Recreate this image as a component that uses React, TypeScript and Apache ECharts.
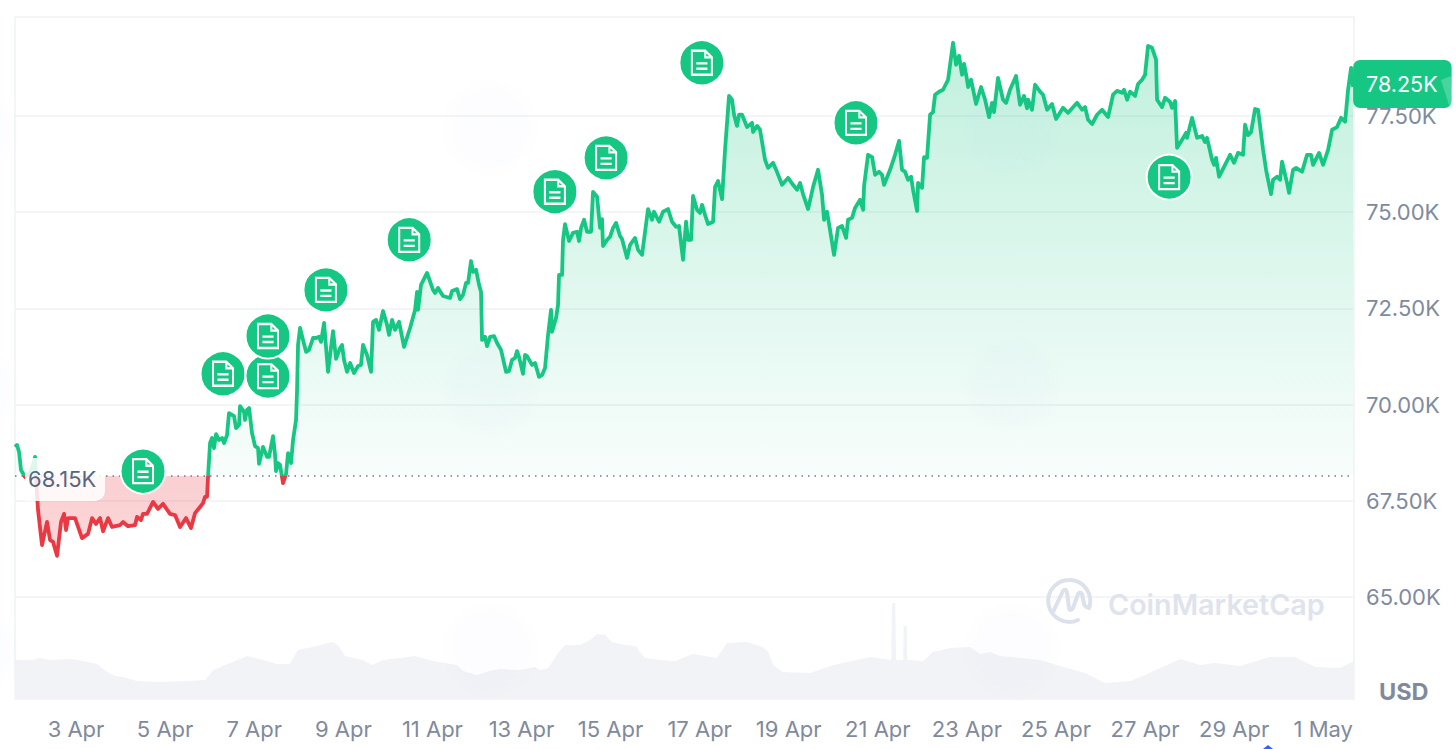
import React, { useEffect, useRef } from "react";
import * as echarts from "echarts";

const FONT = "Inter, 'Noto Sans', sans-serif";
const GREEN = "#16c784";
const RED = "#ea3943";
const GREY = "#808a9d";

const dayTicks = [3, 5, 7, 9, 11, 13, 15, 17, 19, 21, 23, 25, 27, 29, 31];
const dayLabels = ["3 Apr", "5 Apr", "7 Apr", "9 Apr", "11 Apr", "13 Apr", "15 Apr", "17 Apr", "19 Apr", "21 Apr", "23 Apr", "25 Apr", "27 Apr", "29 Apr", "1 May"];
const priceTicks = [65, 67.5, 70, 72.5, 75, 77.5];
const openPrice = 68.15;
const lastPrice = 78.25;

// [day of April, price in thousands of USD]
const priceLine: number[][] = [
  [1.631,68.90],[1.676,68.95],[1.721,68.77],[1.765,68.30],[1.855,68.12],[1.968,68.25],[2.035,68.43],[2.08,68.64],[2.10,68.14],[2.147,67.26],[2.237,66.35],[2.349,66.95],[2.417,66.48],[2.484,66.43],[2.574,66.07],[2.663,66.95],[2.731,67.16],[2.776,66.74],[2.821,67.05],[2.978,67.05],[3.135,66.53],[3.27,66.64],[3.36,67.05],[3.449,66.90],[3.539,67.05],[3.606,66.71],[3.719,67.05],[3.808,66.82],[3.988,66.87],[4.055,66.95],[4.168,66.84],[4.325,66.87],[4.37,67.08],[4.459,67.00],[4.504,67.16],[4.594,67.16],[4.729,67.47],[4.841,67.29],[4.953,67.42],[5.11,67.16],[5.223,67.13],[5.335,66.82],[5.47,67.05],[5.582,66.79],[5.672,67.18],[5.784,67.34],[5.851,67.44],[5.896,67.60],[5.941,67.60],[5.964,68.14],
  [6.009,69.00],[6.053,69.13],[6.098,68.87],[6.143,69.23],[6.21,69.08],[6.278,69.13],[6.323,69.00],[6.39,69.21],[6.435,69.78],[6.547,69.70],[6.592,69.39],[6.66,69.47],[6.682,69.96],[6.772,69.81],[6.794,69.60],[6.839,69.86],[6.884,69.91],[6.951,69.26],[7.019,68.92],[7.086,68.87],[7.109,68.46],[7.198,68.90],[7.288,68.64],[7.333,68.64],[7.423,69.18],[7.468,68.69],[7.49,68.27],[7.535,68.48],[7.58,68.43],[7.647,67.96],[7.715,68.20],[7.76,68.74],[7.827,68.48],[7.872,69.08],[7.939,69.60],[7.962,70.38],[7.984,71.55],[8.029,71.99],[8.096,71.68],[8.164,71.37],[8.231,71.42],[8.321,71.73],[8.388,71.73],[8.456,71.76],[8.50,71.63],[8.568,72.12],[8.658,70.85],[8.77,71.91],[8.837,71.19],[8.927,71.47],[8.972,71.55],[9.017,71.16],[9.084,70.85],[9.152,71.08],[9.241,70.82],[9.331,71.00],[9.398,71.03],[9.443,71.55],[9.533,71.29],[9.623,70.85],[9.668,72.15],[9.735,72.20],[9.802,71.94],[9.892,72.43],[9.982,72.07],[10.027,71.81],[10.094,72.20],[10.162,71.94],[10.252,72.15],[10.364,71.50],[10.499,71.99],[10.611,72.46],[10.656,72.93],[10.678,72.46],[10.745,73.11],[10.88,73.42],[11.015,72.98],[11.06,72.90],[11.127,73.03],[11.239,72.82],[11.397,72.77],[11.441,72.95],[11.554,73.00],[11.621,72.74],[11.688,72.85],[11.756,73.16],[11.801,73.16],[11.868,73.73],[11.913,73.45],[11.98,73.50],[12.048,73.11],[12.092,72.93],[12.115,71.68],[12.182,71.76],[12.227,71.52],[12.295,71.76],[12.384,71.78],[12.452,71.60],[12.541,71.42],[12.654,70.85],[12.721,70.87],[12.788,71.16],[12.856,71.21],[12.901,71.39],[12.945,71.24],[13.035,70.80],[13.08,71.29],[13.125,71.26],[13.237,71.03],[13.305,71.08],[13.395,70.72],[13.462,70.77],[13.529,70.95],[13.597,71.81],[13.664,72.46],[13.686,71.89],[13.776,72.25],[13.821,72.59],[13.843,73.37],[13.911,73.37],[13.933,74.27],[13.978,74.69],[14.068,74.25],[14.158,74.46],[14.248,74.49],[14.293,74.25],[14.338,74.59],[14.405,74.80],[14.472,74.49],[14.562,74.49],[14.607,75.525],[14.697,75.40],[14.764,74.59],[14.809,74.82],[14.831,74.12],[14.921,74.28],[14.988,74.36],[15.056,74.59],[15.123,74.72],[15.213,74.38],[15.258,74.30],[15.37,73.81],[15.438,74.15],[15.55,74.33],[15.617,74.02],[15.707,73.89],[15.842,75.08],[15.931,74.80],[15.976,75.01],[16.089,74.75],[16.178,75.01],[16.291,75.08],[16.38,74.75],[16.47,74.62],[16.537,74.64],[16.627,73.76],[16.695,74.75],[16.74,74.28],[16.807,74.28],[16.852,75.42],[16.942,75.06],[17.009,74.98],[17.054,75.19],[17.121,74.93],[17.189,74.69],[17.301,74.75],[17.346,75.65],[17.413,75.81],[17.503,75.34],[17.57,76.62],[17.66,78.02],[17.727,77.92],[17.772,77.53],[17.839,77.24],[17.884,77.53],[17.952,77.53],[18.064,77.21],[18.176,77.32],[18.199,77.08],[18.289,77.24],[18.356,77.14],[18.468,76.36],[18.536,76.15],[18.648,76.28],[18.738,76.04],[18.85,75.71],[18.985,75.89],[19.097,75.71],[19.187,75.58],[19.254,75.76],[19.321,75.47],[19.434,75.08],[19.546,75.65],[19.658,76.10],[19.748,75.45],[19.793,74.80],[19.86,75.01],[19.927,74.54],[20.017,73.89],[20.107,74.59],[20.197,74.64],[20.287,74.33],[20.332,74.80],[20.421,74.85],[20.489,75.11],[20.601,75.32],[20.669,75.06],[20.691,75.68],[20.781,76.49],[20.871,76.43],[20.938,75.97],[21.028,76.05],[21.095,75.97],[21.14,75.71],[21.275,76.10],[21.387,76.49],[21.477,76.85],[21.544,76.10],[21.611,76.05],[21.679,75.84],[21.746,75.92],[21.791,75.58],[21.881,75.03],[21.903,75.76],[21.993,75.63],[22.038,76.43],[22.105,76.41],[22.173,77.53],[22.24,77.60],[22.285,78.05],[22.375,78.13],[22.464,78.18],[22.577,78.44],[22.689,79.40],[22.756,78.83],[22.823,79.06],[22.891,78.57],[22.936,78.85],[23.003,78.44],[23.026,78.25],[23.093,78.44],[23.205,77.81],[23.318,78.25],[23.408,77.92],[23.497,77.47],[23.564,77.84],[23.609,77.60],[23.699,78.49],[23.811,77.92],[23.879,77.84],[23.968,78.18],[24.103,78.54],[24.193,77.79],[24.283,78.02],[24.35,77.70],[24.373,77.92],[24.462,77.66],[24.53,78.31],[24.642,78.13],[24.71,78.05],[24.8,77.66],[24.911,77.81],[25.001,77.42],[25.158,77.71],[25.271,77.58],[25.473,77.84],[25.585,77.66],[25.652,77.73],[25.72,77.40],[25.81,77.29],[25.922,77.53],[26.034,77.66],[26.169,77.47],[26.281,78.05],[26.371,78.15],[26.483,78.10],[26.528,78.18],[26.596,77.92],[26.663,78.13],[26.775,78.02],[26.842,78.33],[26.932,78.44],[26.999,78.57],[27.067,79.32],[27.156,79.27],[27.246,78.96],[27.269,77.92],[27.381,77.73],[27.448,77.97],[27.561,77.86],[27.605,77.71],[27.673,77.89],[27.718,76.67],[27.83,76.88],[27.92,77.06],[27.942,76.93],[28.054,77.45],[28.167,76.93],[28.279,76.98],[28.346,76.82],[28.391,76.93],[28.503,76.36],[28.548,76.23],[28.593,76.41],[28.661,75.92],[28.795,76.23],[28.908,76.49],[28.997,76.28],[29.087,76.54],[29.199,76.49],[29.244,77.27],[29.312,77.00],[29.379,77.08],[29.469,77.68],[29.536,77.66],[29.649,76.62],[29.716,76.10],[29.761,75.84],[29.828,75.47],[29.873,75.84],[29.963,75.92],[30.03,75.84],[30.075,76.31],[30.143,75.97],[30.187,75.76],[30.232,75.50],[30.322,76.10],[30.39,76.15],[30.457,76.10],[30.524,76.05],[30.636,76.49],[30.726,76.49],[30.771,76.23],[30.906,76.54],[30.996,76.23],[31.108,76.62],[31.198,77.14],[31.31,77.21],[31.4,77.45],[31.49,77.35],[31.557,78.18],[31.625,78.75],[31.67,78.25],
];

// [day of April, volume in billions of USD]
const volumeLine: number[][] = [
  [1.63,39],[2.03,39],[2.19,41],[2.42,39],[2.87,40],[3.05,39],[3.47,35],[3.70,27],[3.88,23],[4.06,22],[4.37,18],[4.89,17],[5.49,18],[5.90,19],[6.08,29],[6.46,36],[6.84,43],[7.20,39],[7.51,35],[7.80,35],[7.98,49],[8.41,53],[8.75,57],[8.88,54],[9.04,43],[9.44,39],[9.65,34],[9.89,39],[10.27,41],[10.61,43],[11.01,38],[11.55,34],[11.69,28],[12.00,24],[12.29,28],[12.52,30],[12.97,29],[13.30,32],[13.42,29],[13.60,31],[13.82,46],[13.98,54],[14.32,54],[14.54,59],[14.70,65],[14.88,64],[15.03,57],[15.33,54],[15.57,53],[15.66,47],[15.77,41],[16.11,39],[16.45,38],[16.85,45],[17.39,41],[17.61,56],[18.06,57],[18.42,52],[18.54,47],[18.65,34],[18.87,27],[19.48,26],[20.00,34],[20.83,42],[21.30,39],[21.32,96],[21.39,96],[21.41,39],[21.57,39],[21.58,73],[21.65,73],[21.66,39],[22.02,38],[22.24,47],[22.62,51],[23.07,52],[23.30,45],[23.52,47],[23.74,43],[24.64,39],[25.09,33],[25.65,26],[26.10,16],[26.66,18],[27.00,24],[27.34,31],[27.79,40],[28.23,34],[28.57,36],[29.13,33],[29.80,42],[30.37,42],[30.82,32],[31.38,31],[31.69,38],
];

// [day of April, price level in thousands of USD] of the news pins
const newsPins: number[][] = [
  [4.504,68.27],[6.30,70.80],[7.31,70.74],[7.31,71.78],[8.61,72.98],[10.48,74.28],[13.75,75.53],[14.90,76.41],[17.05,78.88],[20.51,77.32],[27.54,75.91],
];

const docIcon = "path://M1 1H13L19 7V23H1ZM13 1V7H19M5 12.5H15M5 17.5H15";
const logoPath = "M32 41 A21 21 0 1 1 43 29 M7 33 L17 12 Q19 9 21 13 L23 29 Q24 33 27 29 L32 15 Q34 12 36 15 L38 25 Q40 30 44 27";

const blob = (cx: number, cy: number, r: number) => ({
  type: "circle",
  shape: { cx, cy, r },
  silent: true,
  z: 6,
  style: {
    fill: {
      type: "radial", x: 0.5, y: 0.5, r: 0.5,
      colorStops: [
        { offset: 0, color: "rgba(70,100,220,0.014)" },
        { offset: 0.7, color: "rgba(70,100,220,0.012)" },
        { offset: 1, color: "rgba(70,100,220,0)" },
      ],
    },
  },
});

export default function App() {
  const ref = useRef<HTMLDivElement>(null);

  useEffect(() => {
    document.body.style.margin = "0";
    document.documentElement.style.overflow = "hidden";
    echarts.graphic.registerShape("logo", echarts.graphic.extendPath(logoPath, {}));
    const chart = echarts.init(ref.current!, undefined, { renderer: "svg" });
    chart.setOption({
      animation: false,
      backgroundColor: "#fff",
      textStyle: { fontFamily: FONT },
      grid: [
        { left: 15, right: 102, top: 17, bottom: 50, show: true, borderColor: "#eff2f5", borderWidth: 1.5 },
        { left: 15, right: 102, top: 599, bottom: 50 },
      ],
      xAxis: [
        {
          type: "value", gridIndex: 0, min: 1.63, max: 31.69,
          axisLine: { show: false }, splitLine: { show: false },
          axisTick: { show: false, customValues: dayTicks },
          axisLabel: {
            customValues: dayTicks,
            margin: 19,
            color: GREY,
            fontFamily: FONT,
            fontSize: 22,
            formatter: (v: number) => dayLabels[dayTicks.indexOf(v)],
          },
        },
        { type: "value", gridIndex: 1, min: 1.63, max: 31.69, show: false },
      ],
      yAxis: [
        {
          type: "value", gridIndex: 0, position: "right", min: 62.35, max: 80.07,
          axisLine: { show: false },
          axisTick: { show: false, customValues: priceTicks },
          splitLine: { lineStyle: { color: "#eff2f5", width: 1.5 } },
          axisLabel: {
            customValues: priceTicks,
            margin: 12,
            color: GREY,
            fontFamily: FONT,
            fontSize: 22,
            formatter: (v: number) => v.toFixed(2) + "K",
          },
        },
        { type: "value", gridIndex: 1, min: 0, max: 100, show: false },
      ],
      visualMap: {
        show: false,
        seriesIndex: 1,
        dimension: 1,
        pieces: [
          { gt: openPrice, lte: 90, color: GREEN },
          { gt: 50, lte: openPrice, color: RED },
        ],
      },
      series: [
        {
          type: "line", name: "Volume", xAxisIndex: 1, yAxisIndex: 1, z: 1,
          data: volumeLine, symbol: "none", silent: true,
          lineStyle: { width: 0 },
          areaStyle: { color: "#f1f3f6", opacity: 1 },
        },
        {
          type: "line", name: "Price", xAxisIndex: 0, yAxisIndex: 0, z: 3,
          data: priceLine, symbol: "none", silent: true,
          lineStyle: { width: 3.8, join: "round" },
          areaStyle: {
            origin: openPrice,
            opacity: 1,
            color: {
              type: "linear", global: true, x: 0, y: 40, x2: 0, y2: 560,
              colorStops: [
                { offset: 0, color: "rgba(22,199,132,0.27)" },
                { offset: 0.838, color: "rgba(22,199,132,0.03)" },
                { offset: 0.838, color: "rgba(234,57,67,0.24)" },
                { offset: 1, color: "rgba(234,57,67,0.2)" },
              ],
            },
          },
          markLine: {
            silent: true,
            symbol: "none",
            label: { show: false },
            lineStyle: { type: [1.5, 5], color: "#6f7a8e", width: 1.5 },
            data: [{ yAxis: openPrice }],
          },
          endLabel: {
            show: true,
            formatter: () => lastPrice.toFixed(2) + "K",
            color: "#fff",
            fontFamily: FONT,
            fontSize: 21.5,
            backgroundColor: GREEN,
            borderRadius: 7,
            padding: [13, 14, 13, 13],
            distance: 0,
            offset: [0, -3],
          },
        },
        {
          type: "scatter", name: "News", xAxisIndex: 0, yAxisIndex: 0, z: 5,
          data: newsPins, symbol: "circle", symbolSize: 45, silent: true,
          itemStyle: { color: GREEN, borderColor: "#fff", borderWidth: 2, opacity: 1 },
        },
        {
          type: "scatter", name: "News icon", xAxisIndex: 0, yAxisIndex: 0, z: 5,
          data: newsPins, symbol: docIcon, symbolSize: [20, 24], silent: true,
          itemStyle: { color: "transparent", borderColor: "#fff", borderWidth: 2.2, opacity: 1 },
        },
      ],
      graphic: [
        blob(490, 128, 52),
        blob(490, 390, 52),
        blob(490, 650, 52),
        blob(1012, 385, 52),
        blob(1012, 128, 52),
        blob(1012, 650, 52),
        blob(-28, 130, 50),
        blob(-28, 390, 50),
        blob(-28, 650, 50),
        {
          type: "rect", z: 20, silent: true,
          shape: { x: 25, y: 458, width: 80, height: 43, r: [0, 0, 10, 0] },
          style: { fill: "rgba(255,255,255,0.85)" },
        },
        {
          type: "text", z: 21, silent: true, x: 28, y: 479,
          style: { text: "68.15K", fill: "#58667e", font: `22px ${FONT}`, verticalAlign: "middle" },
        },
        {
          type: "polygon", z: 30, silent: true,
          shape: { points: [[1441, 80], [1451, 76], [1453, 104], [1450, 108]] },
          style: { fill: "rgba(255,255,255,0.22)" },
        },
        {
          type: "text", z: 21, silent: true, x: 1379, y: 691,
          style: { text: "USD", fill: GREY, font: `700 23.5px ${FONT}`, verticalAlign: "middle" },
        },
        {
          type: "logo", z: 8, silent: true, x: 1046, y: 579,
          style: { fill: "none", stroke: "#dde1ec", lineWidth: 4, lineCap: "round", lineJoin: "round" },
        },
        {
          type: "text", z: 8, silent: true, x: 1108, y: 604,
          style: { text: "CoinMarketCap", fill: "#dfe3ee", font: `600 28.7px ${FONT}`, verticalAlign: "middle" },
        },
        {
          type: "polygon", z: 8, silent: true,
          shape: { points: [[1268, 745], [1273, 749], [1263, 749]] },
          style: { fill: "#3861fb" },
        },
      ],
    });
    return () => chart.dispose();
  }, []);

  return <div ref={ref} style={{ width: 1456, height: 749 }} />;
}
